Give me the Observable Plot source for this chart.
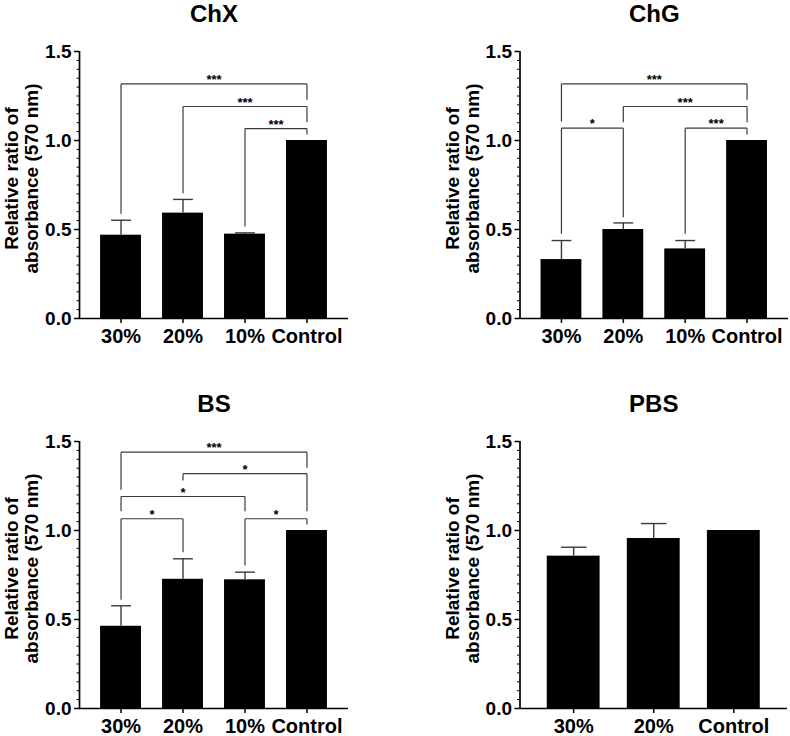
<!DOCTYPE html>
<html>
<head>
<meta charset="utf-8">
<script src="https://cdn.jsdelivr.net/npm/d3@7"></script>
<script src="https://cdn.jsdelivr.net/npm/@observablehq/plot@0.6"></script>
<style>
  html, body { margin: 0; padding: 0; background: white; }
  #chart { position: relative; width: 790px; height: 736px; background: white; }
  #chart svg { position: absolute; }
  #chart g[aria-label="y-axis tick label"], #chart g[aria-label="y-axis tick label"] text { font-size: 19px; }
  #chart g[aria-label="x-axis tick label"], #chart g[aria-label="x-axis tick label"] text { font-size: 20px; }
</style>
</head>
<body>
<div id="chart"></div>
<script>
// ---- data ----
const panelTitles = ["ChX", "ChG", "BS", "PBS"];
const groups4 = ["30%", "20%", "10%", "Control"];
const groups3 = ["30%", "20%", "Control"];

const chxMean = [0.468, 0.592, 0.474, 1.0];
const chxErr  = [0.084, 0.077, 0.007, 0];
const chgMean = [0.331, 0.500, 0.391, 1.0];
const chgErr  = [0.107, 0.037, 0.047, 0];
const bsMean  = [0.462, 0.726, 0.723, 1.0];
const bsErr   = [0.115, 0.115, 0.043, 0];
const pbsMean = [0.856, 0.955, 1.0];
const pbsErr  = [0.050, 0.084, 0];

// significance brackets: [from, to, level, leg end (from), leg end (to), label]
const chxBrackets = [
  ["30%", "Control", 1.318, 0.588, 1.229, "***"],
  ["20%", "Control", 1.191, 0.704, 1.103, "***"],
  ["10%", "Control", 1.067, 0.517, 1.034, "***"]
];
const chgBrackets = [
  ["30%", "Control", 1.318, 1.107, 1.229, "***"],
  ["20%", "Control", 1.191, 1.103, 1.103, "***"],
  ["30%", "20%",     1.069, 0.476, 0.569, "*"],
  ["10%", "Control", 1.069, 0.476, 1.034, "***"]
];
const bsBrackets = [
  ["30%", "Control", 1.440, 1.229, 1.352, "***"],
  ["20%", "Control", 1.319, 1.281, 1.108, "*"],
  ["30%", "10%",     1.191, 1.108, 1.108, "*"],
  ["30%", "20%",     1.066, 0.611, 0.878, "*"],
  ["10%", "Control", 1.066, 0.803, 1.034, "*"]
];
const pbsBrackets = [];

const yTicks = [0, 0.5, 1.0, 1.5];
const yMinorTicks = d3.range(0, 31).map(k => k * 0.05);
const yLabel = "Relative ratio of\nabsorbance (570 nm)";

const FONT = "'Liberation Sans', Arial, Helvetica, sans-serif";
const LINE = "#3a3a3a";

function panel({title, groups, mean, err, brackets, left, top, mt, mb, ml, mr}) {
  const data = groups.map((g, i) => ({g, i, mean: mean[i], err: err[i], upper: mean[i] + err[i]}));
  const withErr = data.filter(d => d.err > 0);
  const idx = g => groups.indexOf(g);
  const br = brackets.map(([a, b, level, ea, eb, label]) => ({ia: idx(a), ib: idx(b), level, ea, eb, label}));
  const half = 0.33, cap = 0.16;
  const lo = -0.67, hi = groups.length - 1 + 0.67;
  const svg = Plot.plot({
    width: 395,
    height: 368,
    marginTop: mt,
    marginBottom: mb,
    marginLeft: ml,
    marginRight: mr,
    x: {type: "linear", domain: [lo, hi]},
    y: {type: "linear", domain: [0, 1.5]},
    style: {fontFamily: FONT, fontWeight: "bold", fontSize: "19px", background: "transparent", overflow: "visible", color: "black"},
    marks: [
      Plot.rect(data, {x1: d => d.i - half, x2: d => d.i + half, y1: 0, y2: "mean", fill: "black"}),
      Plot.ruleX(withErr, {x: "i", y1: "mean", y2: "upper", stroke: LINE, strokeWidth: 1.4}),
      Plot.link(withErr, {x1: d => d.i - cap, x2: d => d.i + cap, y1: "upper", y2: "upper", stroke: LINE, strokeWidth: 1.4}),
      Plot.link(br, {x1: "ia", x2: "ib", y1: "level", y2: "level", stroke: LINE, strokeWidth: 1.2}),
      Plot.link(br, {x1: "ia", x2: "ia", y1: "level", y2: "ea", stroke: LINE, strokeWidth: 1.2}),
      Plot.link(br, {x1: "ib", x2: "ib", y1: "level", y2: "eb", stroke: LINE, strokeWidth: 1.2}),
      Plot.text(br, {x: d => (d.ia + d.ib) / 2, y: "level", text: "label", lineAnchor: "bottom", fontSize: 13, dy: 0}),
      Plot.ruleY([0], {strokeWidth: 1.7}),
      Plot.ruleX([lo], {strokeWidth: 1.7}),
      Plot.axisY({ticks: yMinorTicks, tickSize: 2.5, tickFormat: () => "", strokeWidth: 1, label: null}),
      Plot.axisY({ticks: yTicks, tickSize: 5, tickPadding: 3, tickFormat: d3.format(".1f"), fontSize: 19, strokeWidth: 1.5, label: null}),
      Plot.axisX({ticks: d3.range(groups.length), tickSize: 5, tickPadding: 5, tickFormat: i => groups[i], fontSize: 20, strokeWidth: 1.5, label: null}),
      Plot.text([title], {frameAnchor: "top", dy: -30, lineAnchor: "bottom", fontSize: 24}),
      Plot.text([yLabel], {frameAnchor: "left", rotate: -90, dx: -57.5, dy: -6.5, textAnchor: "middle", lineAnchor: "middle", lineHeight: 1.05, fontSize: 19})
    ]
  });
  svg.style.left = left + "px";
  svg.style.top = top + "px";
  document.getElementById("chart").appendChild(svg);
  return svg;
}

panel({title: panelTitles[0], groups: groups4, mean: chxMean, err: chxErr, brackets: chxBrackets,
       left: 0, top: 0, mt: 51, mb: 50, ml: 79, mr: 47});
panel({title: panelTitles[1], groups: groups4, mean: chgMean, err: chgErr, brackets: chgBrackets,
       left: 395, top: 0, mt: 51, mb: 50, ml: 124.5, mr: 2});
panel({title: panelTitles[2], groups: groups4, mean: bsMean, err: bsErr, brackets: bsBrackets,
       left: 0, top: 368, mt: 73, mb: 28, ml: 79, mr: 47});
panel({title: panelTitles[3], groups: groups3, mean: pbsMean, err: pbsErr, brackets: pbsBrackets,
       left: 395, top: 368, mt: 73, mb: 28, ml: 124.5, mr: 3});
</script>
</body>
</html>
